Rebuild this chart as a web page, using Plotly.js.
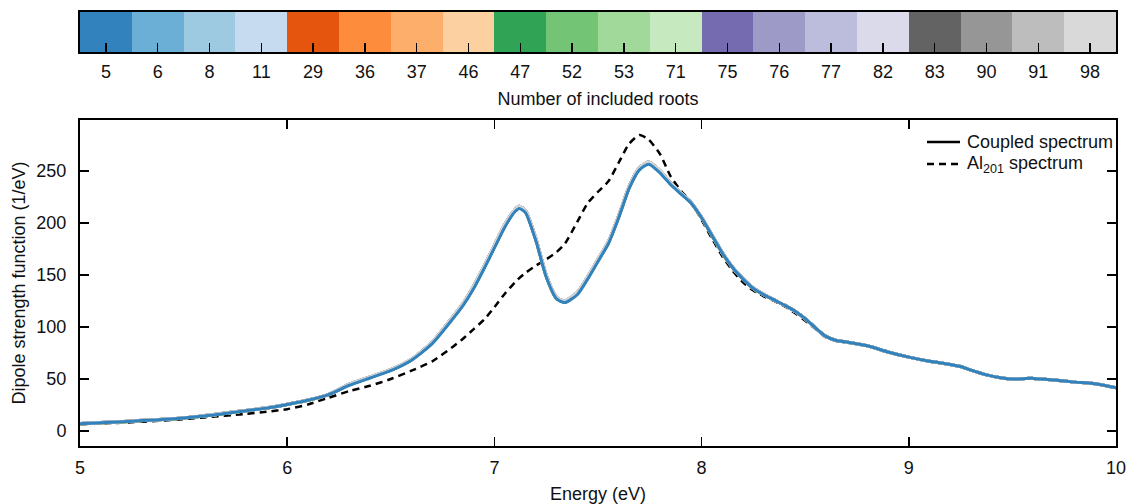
<!DOCTYPE html>
<html>
<head>
<meta charset="utf-8">
<script src="https://cdn.plot.ly/plotly-3.0.1.min.js"></script>
<style>html,body{margin:0;padding:0;background:#fff;}#chart{width:1129px;height:504px;}</style>
</head>
<body>
<div id="chart"></div>
<script>
// ---- data ----
const energy = [5.0,5.2,5.4,5.6,5.8,5.9,6.0,6.1,6.2,6.3,6.4,6.5,6.6,6.7,6.8,6.85,6.9,6.95,7.0,7.05,7.1,7.12,7.15,7.2,7.25,7.3,7.34,7.4,7.45,7.5,7.55,7.6,7.65,7.7,7.745,7.8,7.85,7.9,7.95,8.0,8.05,8.1,8.15,8.2,8.25,8.3,8.35,8.4,8.46,8.5,8.55,8.6,8.65,8.7,8.8,8.9,9.0,9.1,9.2,9.25,9.3,9.375,9.45,9.5,9.6,9.7,9.8,9.9,10.0];

// coupled spectrum, 5 roots
const coupled5 = [7,9,11,14.5,19.5,22,25.5,29.5,35,44,51,58,68,84,108,121,137,156,176,196,211,214,210,183,148,127,123.5,131,146,163,180,205,233,251,256.5,248,237,228,219,205,188,171,157,146,137,131,126,121,114,108,99,91,87,85.5,82,76,71,67,64,62,58.5,54,51,50,50.6,49,47,45.5,41.5];

// coupled spectrum, 6-53 roots
const coupled6to53 = [7,9,11,14.5,19.5,22,25.5,29.5,35,44.5,51.5,58.5,68.5,85,109,122,138,157,177,197,212,215,211,184,149,127.5,124,132,147,164,181,206,234,252,257.5,249,237.5,228.5,219,205,188,171,157,146,137,131,126,121,114,108,99,91,87,85.5,82,76,71,67,64,62,58.5,54,51,50,50.6,49,47,45.5,41.5];

// coupled spectrum, 71-98 roots
const coupled71to98 = [7.2,9.2,11.2,14.8,19.8,22.3,25.8,29.8,35.3,45,52,59,69,85.5,110,123,139.5,158.5,178.5,198.5,213,216,212,185,150,128.5,125,133,148,165,182,207,235,253,258.5,250,238.5,229,219.5,205.5,188.5,171.5,157.5,146.5,137.5,131.5,126,121,114,108,99,91,87,85.5,82,76,71,67,64,62,58.5,54,51,50,50.6,49,47,45.5,41.5];

// AI201 spectrum
const ai201 = [6.5,8,10,13,16.5,18.5,21,25.5,32,38.5,43.5,50,58,67,81,89,98,107,119,132,143,147,152,159,165,172,180,201,219,230,240,258,276,284.5,280,266,245,231,220,203,185,168,154,143,135,129.5,125,120,112,106,98,90,86.5,85,82,76,71,67,64,62,58.5,54,51,50,50.6,49,47,45.5,41.5];

const rootCounts = ['5','6','8','11','29','36','37','46','47','52','53','71','75','76','77','82','83','90','91','98'];
const rootColors = ['#3182bd','#6baed6','#9ecae1','#c6dbef','#e6550d','#fd8d3c','#fdae6b','#fdd0a2','#31a354','#74c476','#a1d99b','#c7e9c0','#756bb1','#9e9ac8','#bcbddc','#dadaeb','#636363','#969696','#bdbdbd','#d9d9d9'];
const rootSpectra = {'5':coupled5};
['6','8','11','29','36','37','46','47','52','53'].forEach(k=>rootSpectra[k]=coupled6to53);
['71','75','76','77','82','83','90','91','98'].forEach(k=>rootSpectra[k]=coupled71to98);

const legendNames = ['Coupled spectrum','Al<sub>201</sub> spectrum'];

// ---- traces ----
const FONT = 'Liberation Sans, Arial, Helvetica, sans-serif';
const DASH = '7px,5px';
const traces = [];
// AI201 dashed
traces.push({x:energy,y:ai201,mode:'lines',showlegend:false,line:{color:'black',width:2.5,dash:DASH,shape:'spline',smoothing:0.6},xaxis:'x',yaxis:'y'});
// coupled spectra: 6..98 then 5 on top
for (let i=1;i<rootCounts.length;i++){
  traces.push({x:energy,y:rootSpectra[rootCounts[i]],mode:'lines',showlegend:false,line:{color:rootColors[i],width:3,shape:'spline',smoothing:0.6},xaxis:'x',yaxis:'y'});
}
traces.push({x:energy,y:rootSpectra['5'],mode:'lines',showlegend:false,line:{color:rootColors[0],width:3,shape:'spline',smoothing:0.6},xaxis:'x',yaxis:'y'});

// discrete colour bar
const idx = rootCounts.map((_,i)=>i);
const cscale = rootColors.map((c,i)=>[i/(rootColors.length-1),c]);
traces.push({type:'heatmap',z:[idx],x:idx,y:[0],colorscale:cscale,zmin:0,zmax:rootColors.length-1,showscale:false,xaxis:'x2',yaxis:'y2',hoverinfo:'skip'});

// custom legend (inside top-right of main panel), positions in paper coords
const PL = 80, PW = 1036, PB = 446, PH = 434;
const px = v => (v-PL)/PW, py = v => (PB-v)/PH;
const legendY = [142, 164];
const shapes = [
  {type:'line',xref:'paper',yref:'paper',x0:px(927),x1:px(960),y0:py(legendY[0]),y1:py(legendY[0]),line:{color:'black',width:2.5}},
  {type:'line',xref:'paper',yref:'paper',x0:px(927),x1:px(960),y0:py(legendY[1]),y1:py(legendY[1]),line:{color:'black',width:2.5,dash:DASH}}
];
const annotations = legendNames.map((t,i)=>({text:t,xref:'paper',yref:'paper',x:px(965),y:py(legendY[i]),xanchor:'left',yanchor:'middle',showarrow:false,font:{family:FONT,size:18,color:'#111'}}));

const axisCommon = {showline:true,linecolor:'black',linewidth:2,ticks:'inside',ticklen:9,tickwidth:1.5,tickcolor:'black',showgrid:false,zeroline:false,tickfont:{family:FONT,size:18,color:'#111'}};

const layout = {
  width:1129,height:504,
  margin:{l:80,r:13,t:12,b:58},
  paper_bgcolor:'white',plot_bgcolor:'white',
  font:{family:FONT,size:18,color:'#111'},
  showlegend:false,
  shapes:shapes,
  annotations:annotations,
  xaxis:Object.assign({},axisCommon,{domain:[0,1],anchor:'y',range:[5,10],tickvals:[5,6,7,8,9,10],mirror:'allticks',ticklabelstandoff:4,
    title:{text:'Energy (eV)',font:{family:FONT,size:18,color:'#111'},standoff:16}}),
  yaxis:Object.assign({},axisCommon,{domain:[0,0.7512],anchor:'x',range:[-14.4,299],tickvals:[0,50,100,150,200,250],mirror:'allticks',ticklabelstandoff:8,
    title:{text:'Dipole strength function (1/eV)',font:{family:FONT,size:18,color:'#111'},standoff:6}}),
  xaxis2:Object.assign({},axisCommon,{domain:[0,1],anchor:'y2',range:[-0.5,19.5],tickvals:idx,ticktext:rootCounts,mirror:true,ticklabelstandoff:2,
    title:{text:'Number of included roots',font:{family:FONT,size:18,color:'#111'},standoff:12}}),
  yaxis2:{domain:[0.908,1],anchor:'x2',range:[-0.5,0.5],showline:true,linecolor:'black',linewidth:2,mirror:true,ticks:'',showticklabels:false,showgrid:false,zeroline:false}
};

Plotly.newPlot('chart',traces,layout,{staticPlot:true,displayModeBar:false});
</script>
</body>
</html>
